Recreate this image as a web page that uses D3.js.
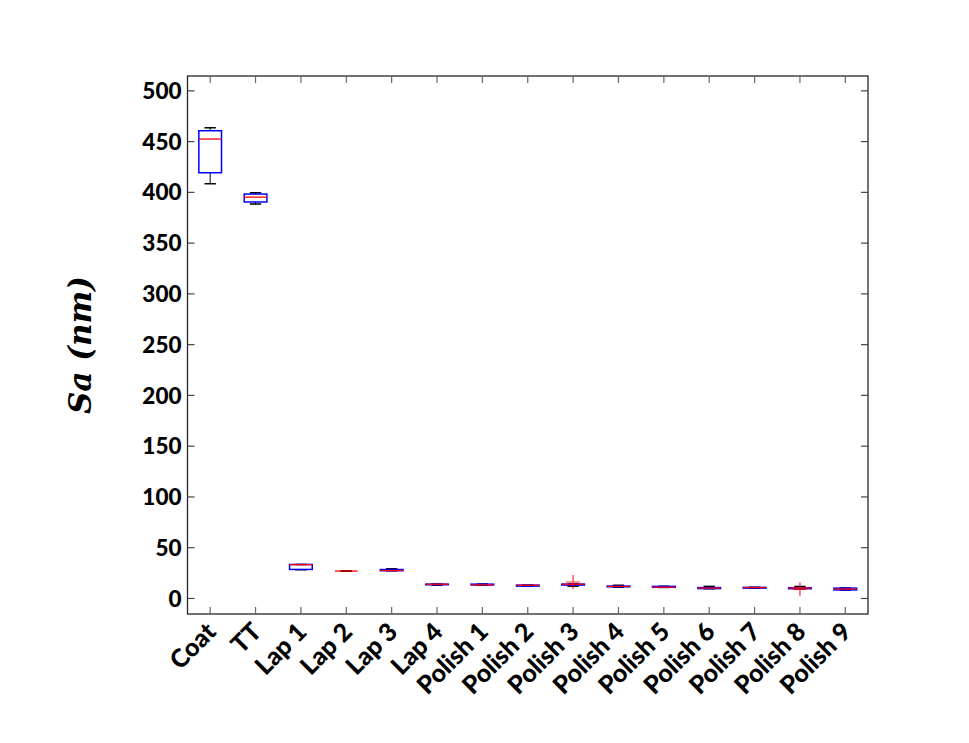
<!DOCTYPE html>
<html><head><meta charset="utf-8">
<script src="https://cdn.jsdelivr.net/npm/d3@7"></script>
<style>body{margin:0;background:#fff}</style>
</head><body>
<svg id="c" width="969" height="743"></svg>
<script>
const categories = ["Coat","TT","Lap 1","Lap 2","Lap 3","Lap 4","Polish 1","Polish 2","Polish 3","Polish 4","Polish 5","Polish 6","Polish 7","Polish 8","Polish 9"];
const whiskerLow  = [408.5, 388.5, 28.3, 27.0, 27.3, 13.1, 13.2, 12.1, 12.1, 11.1, 10.9, 9.6, 10.1, 9.3, 8.3];
const q1          = [419.3, 390.5, 28.6, 27.0, 27.4, 13.5, 13.3, 12.2, 13.2, 11.5, 11.0, 9.7, 10.2, 9.6, 8.4];
const median      = [452.5, 395.3, 33.3, 27.0, 27.5, 14.0, 13.4, 13.0, 14.0, 11.8, 11.1, 10.2, 10.7, 10.3, 9.3];
const q3          = [460.7, 398.3, 33.5, 27.0, 28.5, 14.1, 14.1, 13.1, 14.1, 12.2, 11.9, 10.7, 10.9, 10.5, 10.2];
const whiskerHigh = [463.6, 399.6, 33.5, 27.0, 29.2, 14.2, 14.2, 13.2, 14.3, 13.0, 12.0, 11.9, 11.0, 11.8, 10.3];
const outliers    = [[], [], [], [], [], [], [], [], [16.2], [], [], [], [], [9.0], []];
const yTicks = [0,50,100,150,200,250,300,350,400,450,500];

const svg = d3.select("#c");
const L=187.5, R=868, T=76, B=614;
const x = d3.scaleLinear().domain([0.5, categories.length+0.5]).range([L,R]);
const y = d3.scaleLinear().domain([-15.3, 514.6]).range([B,T]);
const step = x(2)-x(1);
const FONT = "Lato, 'Open Sans', sans-serif";

const g = svg.append("g");
g.append("rect").attr("x",L).attr("y",T).attr("width",R-L).attr("height",B-T)
 .attr("fill","none").attr("stroke","#262626").attr("stroke-width",1.3);

const tl = 7;
yTicks.forEach(v=>{
  g.append("line").attr("x1",L).attr("x2",L+tl).attr("y1",y(v)).attr("y2",y(v)).attr("stroke","#444").attr("stroke-width",1.2);
  g.append("line").attr("x1",R).attr("x2",R-tl).attr("y1",y(v)).attr("y2",y(v)).attr("stroke","#444").attr("stroke-width",1.2);
});
categories.forEach((c,i)=>{
  const cx=x(i+1);
  g.append("line").attr("x1",cx).attr("x2",cx).attr("y1",B).attr("y2",B-tl).attr("stroke","#666").attr("stroke-width",1.2);
  g.append("line").attr("x1",cx).attr("x2",cx).attr("y1",T).attr("y2",T+tl).attr("stroke","#666").attr("stroke-width",1.2);
});

g.selectAll(".yl").data(yTicks).join("text")
 .attr("x",L-6).attr("y",d=>y(d)).attr("dy","0.36em").attr("text-anchor","end")
 .attr("font-family",FONT).attr("font-weight","900").attr("font-size",22.5)
 .text(d=>d);

g.selectAll(".xl").data(categories).join("text")
 .attr("transform",(d,i)=>`translate(${x(i+1)+1},${B+13}) rotate(-45)`)
 .attr("text-anchor","end").attr("dy","0.36em")
 .attr("font-family",FONT).attr("font-weight","900").attr("font-size",25)
 .text(d=>d);

svg.append("text").attr("transform","translate(91,345) rotate(-90)")
 .attr("text-anchor","middle").attr("font-family","'DejaVu Serif', serif")
 .attr("font-style","italic").attr("font-weight","bold").attr("font-size",31)
 .text("Sa (nm)");

const bw = step*0.5, cw = step*0.25;
categories.forEach((c,i)=>{
  const cx=x(i+1);
  const gg=g.append("g");
  gg.append("line").attr("x1",cx).attr("x2",cx).attr("y1",y(q3[i])).attr("y2",y(whiskerHigh[i])).attr("stroke","#000").attr("stroke-width",1);
  gg.append("line").attr("x1",cx).attr("x2",cx).attr("y1",y(q1[i])).attr("y2",y(whiskerLow[i])).attr("stroke","#000").attr("stroke-width",1);
  gg.append("line").attr("x1",cx-cw/2).attr("x2",cx+cw/2).attr("y1",y(whiskerHigh[i])).attr("y2",y(whiskerHigh[i])).attr("stroke","#000").attr("stroke-width",1.5);
  gg.append("line").attr("x1",cx-cw/2).attr("x2",cx+cw/2).attr("y1",y(whiskerLow[i])).attr("y2",y(whiskerLow[i])).attr("stroke","#000").attr("stroke-width",1.5);
  gg.append("rect").attr("x",cx-bw/2).attr("width",bw).attr("y",y(q3[i])).attr("height",Math.max(0,y(q1[i])-y(q3[i])))
    .attr("fill","none").attr("stroke","#0000ff").attr("stroke-width",1.5);
  gg.append("line").attr("x1",cx-bw/2).attr("x2",cx+bw/2).attr("y1",y(median[i])).attr("y2",y(median[i])).attr("stroke","#ff0000").attr("stroke-width",1.3);
  outliers[i].forEach(o=>{
    const s=7;
    gg.append("path").attr("d",`M${cx-s},${y(o)}H${cx+s}M${cx},${y(o)-s}V${y(o)+s}`).attr("stroke","#ff0000").attr("stroke-width",1.2).attr("fill","none").attr("opacity",0.8);
  });
});
</script>
</body></html>
